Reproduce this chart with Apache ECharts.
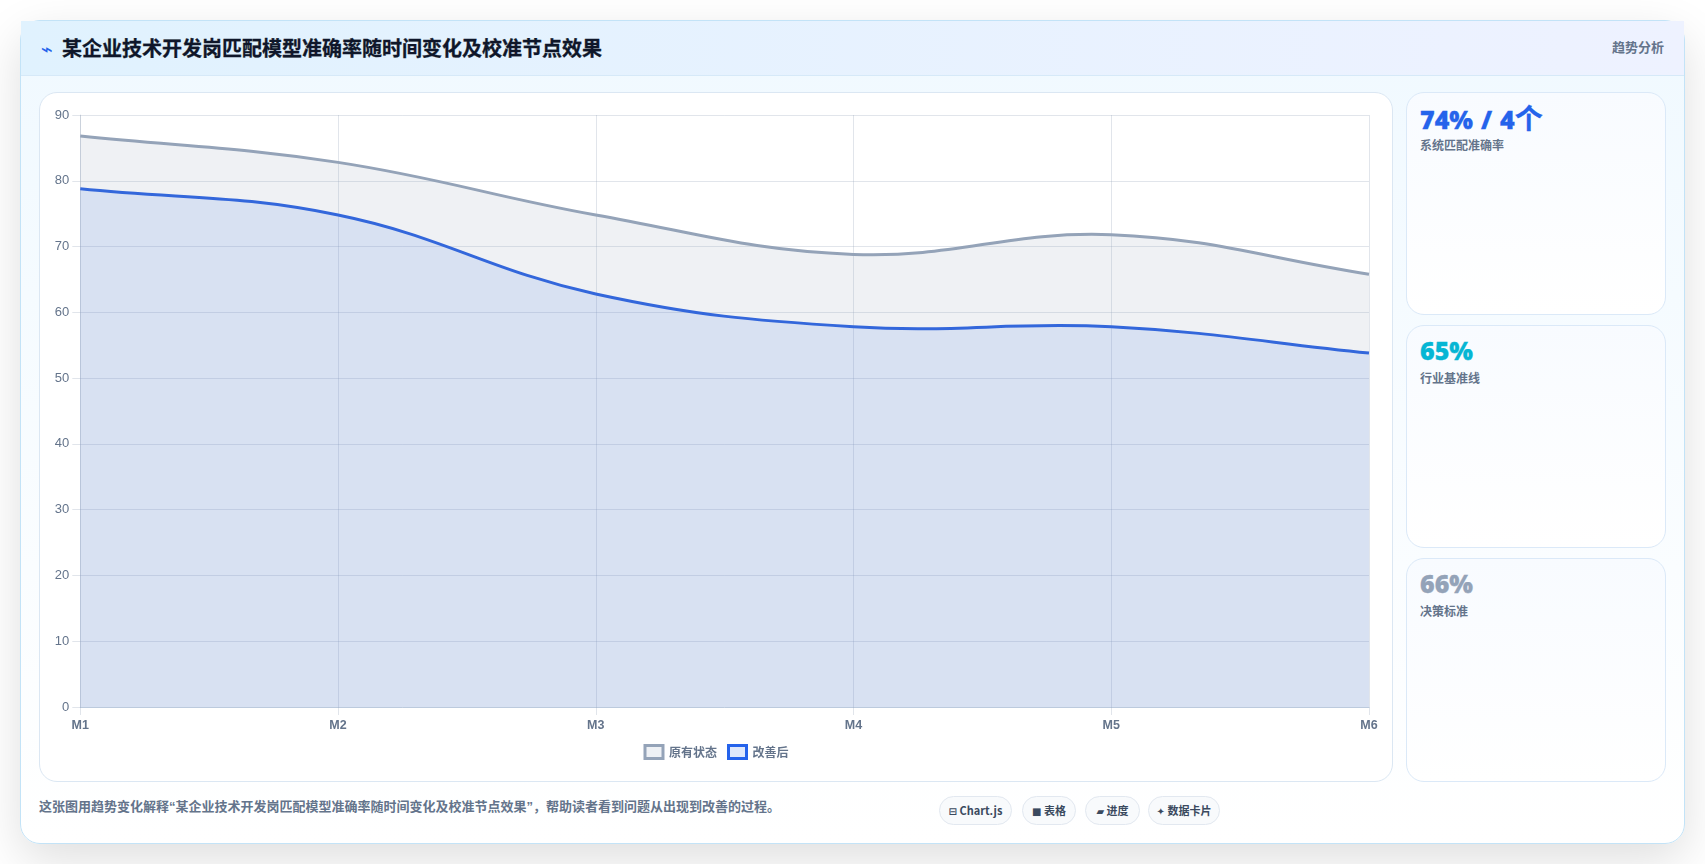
<!DOCTYPE html>
<html lang="zh-CN">
<head>
<meta charset="utf-8">
<title>趋势分析</title>
<script src="https://cdn.jsdelivr.net/npm/echarts@6/dist/echarts.min.js"></script>
<style>
  html, body { margin: 0; padding: 0; width: 1705px; height: 864px; overflow: hidden; background: #fff;
    font-family: "Liberation Sans", "Noto Sans CJK SC", sans-serif; }
  .sheet { position: absolute; left: 20px; top: 20px; width: 1665px; height: 824px; box-sizing: border-box;
    border: 1px solid #c3e3f7; border-radius: 20px;
    background: linear-gradient(180deg, #f0f9ff 0%, #ffffff 100%);
    box-shadow: 0 16px 48px rgba(0, 0, 0, .13); }
  .head { position: absolute; left: 0; top: 0; right: 0; height: 55px; box-sizing: border-box;
    border-bottom: 1px solid #d6e9f8;
    background: linear-gradient(90deg, #e0f2fe 0%, #eef2ff 100%); }
  .bolt { position: absolute; left: 20px; top: 18px; font: 400 20px/20px "DejaVu Sans"; color: #2563eb; }
  .title { position: absolute; left: 41px; top: 13px; font: 700 20px/28px "Noto Sans CJK SC"; color: #0f172a;
    -webkit-text-stroke: .3px #0f172a; }
  .tag { position: absolute; right: 20px; top: 16px; font: 700 13px/20px "Noto Sans CJK SC"; color: #64748b; }
  .plot { position: absolute; left: 18px; top: 71px; width: 1354px; height: 690px; box-sizing: border-box;
    border: 1px solid #dbe7f3; border-radius: 18px; background: #fff; }
  #chart { position: absolute; left: -1px; top: -1px; width: 1354px; height: 690px; }
  .stat { position: absolute; left: 1385px; width: 260px; box-sizing: border-box;
    border: 1px solid #dbe9f8; border-radius: 18px;
    background: linear-gradient(180deg, #f8fbff 0%, #ffffff 100%); }
  .num { position: absolute; left: 13px; top: 9px; font: 900 25px/30px "Noto Sans", "Noto Sans CJK SC"; white-space: nowrap;
    word-spacing: 1.5px; -webkit-text-stroke: .3px currentColor; }
  .num b { font: 700 28px/30px "Noto Sans CJK SC"; }
  .lab { position: absolute; left: 13px; top: 43px; font: 700 12px/18px "Noto Sans CJK SC"; color: #64748b; white-space: nowrap; }
  .note { position: absolute; left: 18px; top: 776px; font: 700 13px/20px "Liberation Sans", "Noto Sans CJK SC"; color: #64748b; white-space: nowrap; }
  .chip { position: absolute; top: 775px; height: 29px; box-sizing: border-box; border: 1px solid #e2e8f0; border-radius: 15px;
    background: #f8fafc; font: 700 11px/27px "Noto Sans CJK SC"; color: #3b4a5f; text-align: center; white-space: nowrap; }
  .chip i { font: 700 10px/27px "DejaVu Sans"; }
</style>
</head>
<body>
<div class="sheet">
  <div class="head">
    <span class="bolt">⌁</span>
    <span class="title" id="title"></span>
    <span class="tag">趋势分析</span>
  </div>
  <div class="plot"><div id="chart"></div></div>
  <div id="stats"></div>
  <div class="note" id="note"></div>
  <div id="chips"></div>
</div>
<script>
  const heading = '某企业技术开发岗匹配模型准确率随时间变化及校准节点效果';
  const caption = '这张图用趋势变化解释“' + heading + '”，帮助读者看到问题从出现到改善的过程。';

  const months = ['M1', 'M2', 'M3', 'M4', 'M5', 'M6'];
  const baselineName = '原有状态';
  const improvedName = '改善后';
  const baseline = [86.8, 82.8, 74.8, 68.8, 71.8, 65.8];
  const improved = [78.8, 74.8, 62.8, 57.8, 57.8, 53.8];

  const statValues = ['74% / 4个', '65%', '66%'];
  const statLabels = ['系统匹配准确率', '行业基准线', '决策标准'];
  const statColors = ['#2563eb', '#06b6d4', '#94a3b8'];
  const statTops = [71, 304, 537];
  const statHeights = [223, 223, 224];

  const chipIcons = ['⊟', '■', '▰', '✦'];
  const chipTexts = ['Chart.js', '表格', '进度', '数据卡片'];
  const chipLefts = [918, 1001, 1064, 1127];
  const chipWidths = [73, 54, 55, 72];

  document.getElementById('title').textContent = heading;
  document.getElementById('note').textContent = caption;

  document.getElementById('stats').innerHTML = statValues.map((v, i) =>
    `<div class="stat" style="top:${statTops[i]}px;height:${statHeights[i]}px">
       <div class="num" style="color:${statColors[i]}">${v.replace(/[^\x00-\x7f]+/g, '<b>$&</b>')}</div>
       <div class="lab">${statLabels[i]}</div>
     </div>`).join('');

  document.getElementById('chips').innerHTML = chipTexts.map((t, i) =>
    `<div class="chip" style="left:${chipLefts[i]}px;width:${chipWidths[i]}px"><i>${chipIcons[i]}</i> ${t}</div>`).join('');

  const gridColor = 'rgba(148, 163, 184, 0.28)';
  const tickFont = { fontFamily: '"Liberation Sans"', color: '#64748b' };
  const TENSION = 0.4;

  // Cardinal-spline path through the given pixel points; the curve may overshoot a
  // neighbouring point, which the built-in line smoothing would flatten.
  function splinePath(pts) {
    const ctrl = pts.map((p, i) => {
      const a = pts[Math.max(i - 1, 0)];
      const b = pts[Math.min(i + 1, pts.length - 1)];
      const d0 = Math.hypot(p[0] - a[0], p[1] - a[1]);
      const d1 = Math.hypot(b[0] - p[0], b[1] - p[1]);
      const sum = d0 + d1 || 1;
      const fa = TENSION * d0 / sum;
      const fb = TENSION * d1 / sum;
      return {
        inX: p[0] - fa * (b[0] - a[0]), inY: p[1] - fa * (b[1] - a[1]),
        outX: p[0] + fb * (b[0] - a[0]), outY: p[1] + fb * (b[1] - a[1])
      };
    });
    let d = 'M' + pts[0][0] + ' ' + pts[0][1];
    for (let i = 1; i < pts.length; i++) {
      d += ' C' + ctrl[i - 1].outX + ' ' + ctrl[i - 1].outY + ' ' + ctrl[i].inX + ' ' + ctrl[i].inY +
           ' ' + pts[i][0] + ' ' + pts[i][1];
    }
    return d;
  }

  // One custom series per curve: the first datum draws the filled area and the stroke
  // for the whole series, with every point placed by the chart's own axes.
  function areaSeries(name, values, line, fill, order) {
    return {
      name, type: 'custom', coordinateSystem: 'cartesian2d', clip: true, z: order, silent: true,
      data: values.map((v, i) => [i, v]),
      encode: { x: 0, y: 1 },
      itemStyle: { color: line },
      renderItem(params, api) {
        if (params.dataIndex !== 0) return null;
        const pts = values.map((v, i) => api.coord([i, v]));
        const base = api.coord([0, 0])[1];
        const curve = splinePath(pts);
        const last = pts[pts.length - 1][0];
        const area = curve + ' L' + last + ' ' + base + ' L' + pts[0][0] + ' ' + base + ' Z';
        return {
          type: 'group',
          children: [
            { type: 'path', shape: { pathData: area }, style: { fill, stroke: null } },
            { type: 'path', shape: { pathData: curve }, style: { fill: null, stroke: line, lineWidth: 3 } }
          ]
        };
      }
    };
  }

  const chart = echarts.init(document.getElementById('chart'), null, { renderer: 'canvas' });
  chart.setOption({
    animation: false,
    backgroundColor: 'transparent',
    grid: { left: 41.3, right: 24, top: 23, bottom: 75, containLabel: false },
    xAxis: {
      type: 'category', data: months, boundaryGap: false,
      axisLine: { lineStyle: { color: '#bccadd', width: 1 } },
      axisTick: { show: true, length: 8, lineStyle: { color: gridColor } },
      axisLabel: Object.assign({}, tickFont, { fontSize: 12.5, fontWeight: 700, margin: 12, interval: 0, hideOverlap: false }),
      splitLine: { show: true, lineStyle: { color: gridColor, width: 1 } }
    },
    yAxis: {
      type: 'value', min: 0, max: 90, interval: 10,
      axisLine: { show: true, lineStyle: { color: gridColor, width: 1 } },
      axisTick: { show: true, length: 8, lineStyle: { color: gridColor } },
      axisLabel: Object.assign({}, tickFont, { fontSize: 13, margin: 11 }),
      splitLine: { show: true, lineStyle: { color: gridColor, width: 1 } }
    },
    legend: {
      bottom: 17, left: 'center', icon: 'rect', itemWidth: 18, itemHeight: 13, itemGap: 10,
      selectedMode: false,
      textStyle: { fontFamily: '"Noto Sans CJK SC"', fontWeight: 700, fontSize: 12, color: '#64748b', padding: [0, 0, 0, 1] },
      data: [
        { name: baselineName, itemStyle: { color: '#eef1f5', borderColor: '#94a3b8', borderWidth: 3 } },
        { name: improvedName, itemStyle: { color: '#dfe8fb', borderColor: '#2563eb', borderWidth: 3 } }
      ]
    },
    tooltip: { show: false },
    series: [
      areaSeries(baselineName, baseline, '#94a3b8', 'rgba(148, 163, 184, 0.15)', 3),
      areaSeries(improvedName, improved, '#235de2', 'rgba(37, 99, 235, 0.12)', 2)
    ]
  });
</script>
</body>
</html>
